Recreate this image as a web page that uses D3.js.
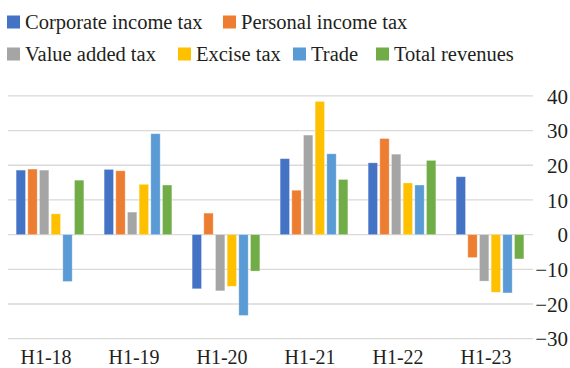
<!DOCTYPE html>
<html>
<head>
<meta charset="utf-8">
<script src="https://cdn.jsdelivr.net/npm/d3@7"></script>
<style>
  html, body { margin: 0; padding: 0; background: #fff; }
  svg text { font-family: "Liberation Serif", "DejaVu Serif", serif; fill: #231f20; }
</style>
</head>
<body>
<svg id="chart" width="570" height="368"></svg>
<script>
// Half-year revenue growth by source, % y/y
const categories = ["H1-18", "H1-19", "H1-20", "H1-21", "H1-22", "H1-23"];
const seriesNames = ["Corporate income tax", "Personal income tax", "Value added tax", "Excise tax", "Trade", "Total revenues"];
const seriesColors = ["#4472C4", "#ED7D31", "#A5A5A5", "#FFC000", "#5B9BD5", "#70AD47"];

const corporateIncomeTax = [18.6, 18.8, -15.6, 21.9, 20.7, 16.7];
const personalIncomeTax  = [18.9, 18.4,   6.2, 12.8, 27.7, -6.6];
const valueAddedTax      = [18.6,  6.5, -16.2, 28.7, 23.2, -13.4];
const exciseTax          = [ 6.0, 14.5, -14.9, 38.4, 14.9, -16.6];
const trade              = [-13.5, 29.1, -23.3, 23.3, 14.3, -16.8];
const totalRevenues      = [15.7, 14.3, -10.5, 15.9, 21.4, -7.0];

const yTicks = [40, 30, 20, 10, 0, -10, -20, -30];

const seriesValues = [corporateIncomeTax, personalIncomeTax, valueAddedTax, exciseTax, trade, totalRevenues];

const svg = d3.select("#chart");

// Scales
const y = d3.scaleLinear().domain([-30, 40]).range([338.7, 95.9]);
const x0 = d3.scaleBand().domain(categories).range([6, 534]).padding(0);
const x1 = d3.scaleBand().domain(seriesNames).range([0, x0.bandwidth()])
  .paddingInner(0.2).paddingOuter(0.87);

// Gridlines
svg.append("g")
  .selectAll("line")
  .data(yTicks)
  .join("line")
  .attr("x1", 8).attr("x2", 533)
  .attr("y1", d => y(d)).attr("y2", d => y(d))
  .attr("stroke", "#d9d9d9")
  .attr("stroke-width", 1.3);

// Y axis on the right
const yAxis = d3.axisRight(y).tickValues(yTicks).tickSize(0).tickPadding(0)
  .tickFormat(d3.format("d"));
const gy = svg.append("g").attr("transform", "translate(568,0)").call(yAxis);
gy.select(".domain").remove();
gy.selectAll("text")
  .attr("text-anchor", "end")
  .attr("x", 0)
  .attr("dy", "0.34em")
  .style("font-size", "21px")
  .style("fill", "#231f20")
  .style("font-family", "Liberation Serif, DejaVu Serif, serif");

// Bars
const rows = [];
categories.forEach((c, i) => {
  seriesNames.forEach((s, j) => {
    rows.push({ cat: c, series: s, value: seriesValues[j][i], color: seriesColors[j] });
  });
});

svg.append("g")
  .selectAll("rect")
  .data(rows)
  .join("rect")
  .attr("x", d => x0(d.cat) + x1(d.series))
  .attr("width", x1.bandwidth())
  .attr("y", d => y(Math.max(0, d.value)))
  .attr("height", d => Math.abs(y(d.value) - y(0)))
  .attr("fill", d => d.color)
  .attr("stroke", "#ffffff")
  .attr("stroke-opacity", 0.35)
  .attr("stroke-width", 0.8);

// X axis labels, centred under each group
const xAxis = d3.axisBottom(x0).tickSize(0).tickPadding(0);
const gx = svg.append("g").attr("transform", "translate(-4,364)").call(xAxis);
gx.select(".domain").remove();
gx.selectAll("text")
  .attr("y", 0)
  .attr("dy", 0)
  .style("font-size", "20px")
  .style("fill", "#231f20")
  .style("font-family", "Liberation Serif, DejaVu Serif, serif");

// Legend
const legendItems = [
  { name: seriesNames[0], color: seriesColors[0], x: 7,   row: 0 },
  { name: seriesNames[1], color: seriesColors[1], x: 223, row: 0 },
  { name: seriesNames[2], color: seriesColors[2], x: 7,   row: 1 },
  { name: seriesNames[3], color: seriesColors[3], x: 178, row: 1 },
  { name: seriesNames[4], color: seriesColors[4], x: 293, row: 1 },
  { name: seriesNames[5], color: seriesColors[5], x: 376, row: 1 }
];
const legend = svg.append("g");
const li = legend.selectAll("g").data(legendItems).join("g")
  .attr("transform", d => `translate(${d.x},${d.row === 0 ? 22 : 54})`);
li.append("rect")
  .attr("x", 0).attr("y", -6.5)
  .attr("width", 13).attr("height", 13)
  .attr("fill", d => d.color);
li.append("text")
  .attr("x", 18)
  .attr("y", 0)
  .attr("dy", "0.35em")
  .style("font-size", "20.5px")
  .text(d => d.name);
</script>
</body>
</html>
